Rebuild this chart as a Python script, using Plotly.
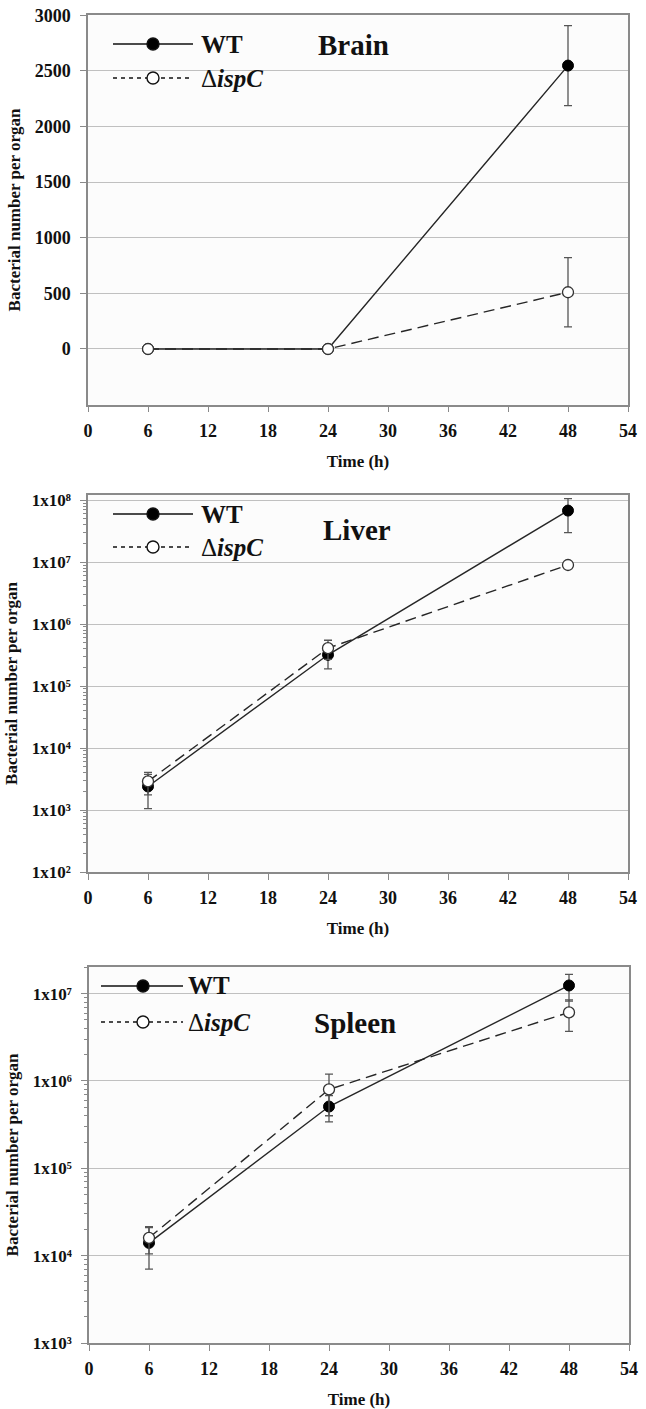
import math
import plotly.graph_objects as go

W, H = 646, 1409

# ---------------- data ----------------
time_h = [6, 24, 48]
x_ticks = [0, 6, 12, 18, 24, 30, 36, 42, 48, 54]

brain_wt = [0, 0, 2548]
brain_wt_err = [float("nan"), float("nan"), 360]
brain_isp = [0, 0, 510]
brain_isp_err = [float("nan"), float("nan"), 312]
brain_ticks = [0, 500, 1000, 1500, 2000, 2500, 3000]

liver_wt = [2.4e3, 3.2e5, 6.8e7]
liver_wt_err = [1.35e3, 1.3e5, 3.8e7]
liver_isp = [2.9e3, 4.1e5, 9.0e6]
liver_isp_err = [1.15e3, 1.4e5, float("nan")]
liver_exps = [2, 3, 4, 5, 6, 7, 8]

spleen_wt = [1.4e4, 5.1e5, 1.24e7]
spleen_wt_err = [7.0e3, 1.7e5, 4.2e6]
spleen_isp = [1.6e4, 8.0e5, 6.1e6]
spleen_isp_err = [5.5e3, 4.0e5, 2.4e6]
spleen_exps = [3, 4, 5, 6, 7]

panel_titles = ["Brain", "Liver", "Spleen"]
series_names = ["WT", "\u0394<b><i>ispC</i></b>"]

SUP = str.maketrans("0123456789", "\u2070\u00b9\u00b2\u00b3\u2074\u2075\u2076\u2077\u2078\u2079")

# ---------------- layout helpers ----------------
FONT = "Liberation Serif"
AX_COL = "#8a8a8a"
GRID_COL = "#c0c0c0"
LINE_COL = "#262626"
ERR_COL = "#555555"


def px_x(p):
    return p / W


def px_y(p):
    return 1 - p / H


fig = go.Figure()

panels = [
    dict(wt=brain_wt, wte=brain_wt_err, isp=brain_isp, ispe=brain_isp_err,
         top=15.3, bottom=404.6, left=88, right=628),
    dict(wt=liver_wt, wte=liver_wt_err, isp=liver_isp, ispe=liver_isp_err,
         top=495, bottom=872, left=88, right=628),
    dict(wt=spleen_wt, wte=spleen_wt_err, isp=spleen_isp, ispe=spleen_isp_err,
         top=967, bottom=1343, left=89, right=629),
]

for i, p in enumerate(panels):
    xa = "x" if i == 0 else f"x{i+1}"
    ya = "y" if i == 0 else f"y{i+1}"
    fig.add_trace(go.Scatter(
        x=time_h, y=p["wt"], xaxis=xa, yaxis=ya, mode="lines+markers",
        name="WT", showlegend=False,
        line=dict(color=LINE_COL, width=1.4),
        marker=dict(symbol="circle", size=11, color="#000000",
                    line=dict(color="#000000", width=1)),
        error_y=dict(type="data", array=p["wte"], symmetric=True,
                     color=ERR_COL, thickness=1.3, width=4),
    ))
    fig.add_trace(go.Scatter(
        x=time_h, y=p["isp"], xaxis=xa, yaxis=ya, mode="lines+markers",
        name="\u0394ispC", showlegend=False,
        line=dict(color=LINE_COL, width=1.4, dash="11px,6px"),
        marker=dict(symbol="circle", size=11, color="#ffffff",
                    line=dict(color="#333333", width=1.3)),
        error_y=dict(type="data", array=p["ispe"], symmetric=True,
                     color=ERR_COL, thickness=1.3, width=4),
    ))

tickfont_main = dict(family=FONT, size=18, color="#111111", weight="bold")
tickfont_log = dict(family=FONT, size=17, color="#111111", weight="bold")
title_font = dict(family=FONT, size=17, color="#111111", weight="bold")

layout = dict(
    width=W, height=H, margin=dict(l=0, r=0, t=0, b=0),
    paper_bgcolor="#ffffff", plot_bgcolor="#fcfcfc",
    showlegend=False,
)


def xaxis_def(p, anchor, standoff):
    return dict(
        domain=[px_x(p["left"]), px_x(p["right"])], anchor=anchor,
        range=[0, 54], tickmode="array", tickvals=x_ticks,
        ticks="outside", ticklen=6, tickcolor=AX_COL, tickwidth=1.2,
        showline=True, linecolor=AX_COL, linewidth=1.5, mirror=True,
        showgrid=False, zeroline=False, tickfont=tickfont_main,
        ticklabelstandoff=3,
        title=dict(text="Time (h)", font=title_font, standoff=standoff),
        automargin=False,
    )


# Brain
layout["xaxis"] = xaxis_def(panels[0], "y", 15)
layout["yaxis"] = dict(
    domain=[px_y(panels[0]["bottom"]), px_y(panels[0]["top"])], anchor="x",
    range=[-500, 3000], tickmode="array", tickvals=brain_ticks,
    ticks="outside", ticklen=6, tickcolor=AX_COL, tickwidth=1.2,
    showline=True, linecolor=AX_COL, linewidth=1.5, mirror=True,
    showgrid=True, gridcolor=GRID_COL, gridwidth=1.4, zeroline=False,
    tickfont=tickfont_main, ticklabelstandoff=6,
    title=dict(text="Bacterial number per organ", font=title_font, standoff=10),
    automargin=False,
)


def log_yaxis(p, anchor, exps, rng):
    minor_vals = []
    for e in range(exps[0], exps[-1] + 1):
        for m in range(2, 10):
            v = m * 10 ** e
            if math.log10(v) < rng[1]:
                minor_vals.append(v)
    return dict(
        domain=[px_y(p["bottom"]), px_y(p["top"])], anchor=anchor,
        type="log", range=rng, tickmode="array",
        tickvals=[10 ** e for e in exps],
        ticktext=["1x10" + str(e).translate(SUP) for e in exps],
        ticks="outside", ticklen=6, tickcolor=AX_COL, tickwidth=1.2,
        minor=dict(tickmode="array", tickvals=minor_vals, ticks="outside",
                   ticklen=3, tickcolor=AX_COL, showgrid=False),
        showline=True, linecolor=AX_COL, linewidth=1.5, mirror=True,
        showgrid=True, gridcolor=GRID_COL, gridwidth=1.4, zeroline=False,
        tickfont=tickfont_log, ticklabelstandoff=6,
        title=dict(text="Bacterial number per organ", font=title_font, standoff=10),
        automargin=False,
    )


layout["xaxis2"] = xaxis_def(panels[1], "y2", 15)
layout["yaxis2"] = log_yaxis(panels[1], "x2", liver_exps, [2, 8.084])
layout["xaxis3"] = xaxis_def(panels[2], "y3", 20)
layout["yaxis3"] = log_yaxis(panels[2], "x3", spleen_exps, [3, 7.305])

fig.update_layout(**layout)

# ---------------- legend keys and panel titles ----------------
legend_pos = [
    dict(rows=(44, 78), x0=113, x1=193, xm=153, xt=199, title=(353, 45)),
    dict(rows=(514, 547), x0=113, x1=193, xm=153, xt=199, title=(357, 530)),
    dict(rows=(986, 1022), x0=101, x1=183, xm=143, xt=186, title=(355, 1023)),
]

for i, lp in enumerate(legend_pos):
    for j, ry in enumerate(lp["rows"]):
        dash = "solid" if j == 0 else "4px,4px"
        fig.add_shape(type="line", xref="paper", yref="paper",
                      x0=px_x(lp["x0"]), x1=px_x(lp["x1"]),
                      y0=px_y(ry), y1=px_y(ry),
                      line=dict(color="#111111", width=1.6, dash=dash))
        fig.add_shape(type="circle", xref="paper", yref="paper",
                      xsizemode="pixel", ysizemode="pixel",
                      xanchor=px_x(lp["xm"]), yanchor=px_y(ry),
                      x0=-6, x1=6, y0=-6, y1=6,
                      fillcolor="#000000" if j == 0 else "#ffffff",
                      line=dict(color="#111111", width=1.4))
        fig.add_annotation(xref="paper", yref="paper",
                           x=px_x(lp["xt"]), y=px_y(ry),
                           xanchor="left", yanchor="middle", showarrow=False,
                           text=("<b>WT</b>" if j == 0 else series_names[1]),
                           font=dict(family=FONT, size=25, color="#111111"))
    fig.add_annotation(xref="paper", yref="paper",
                       x=px_x(lp["title"][0]), y=px_y(lp["title"][1]),
                       xanchor="center", yanchor="middle", showarrow=False,
                       text=f"<b>{panel_titles[i]}</b>",
                       font=dict(family=FONT, size=29, color="#111111"))

fig.write_html("out.html")
